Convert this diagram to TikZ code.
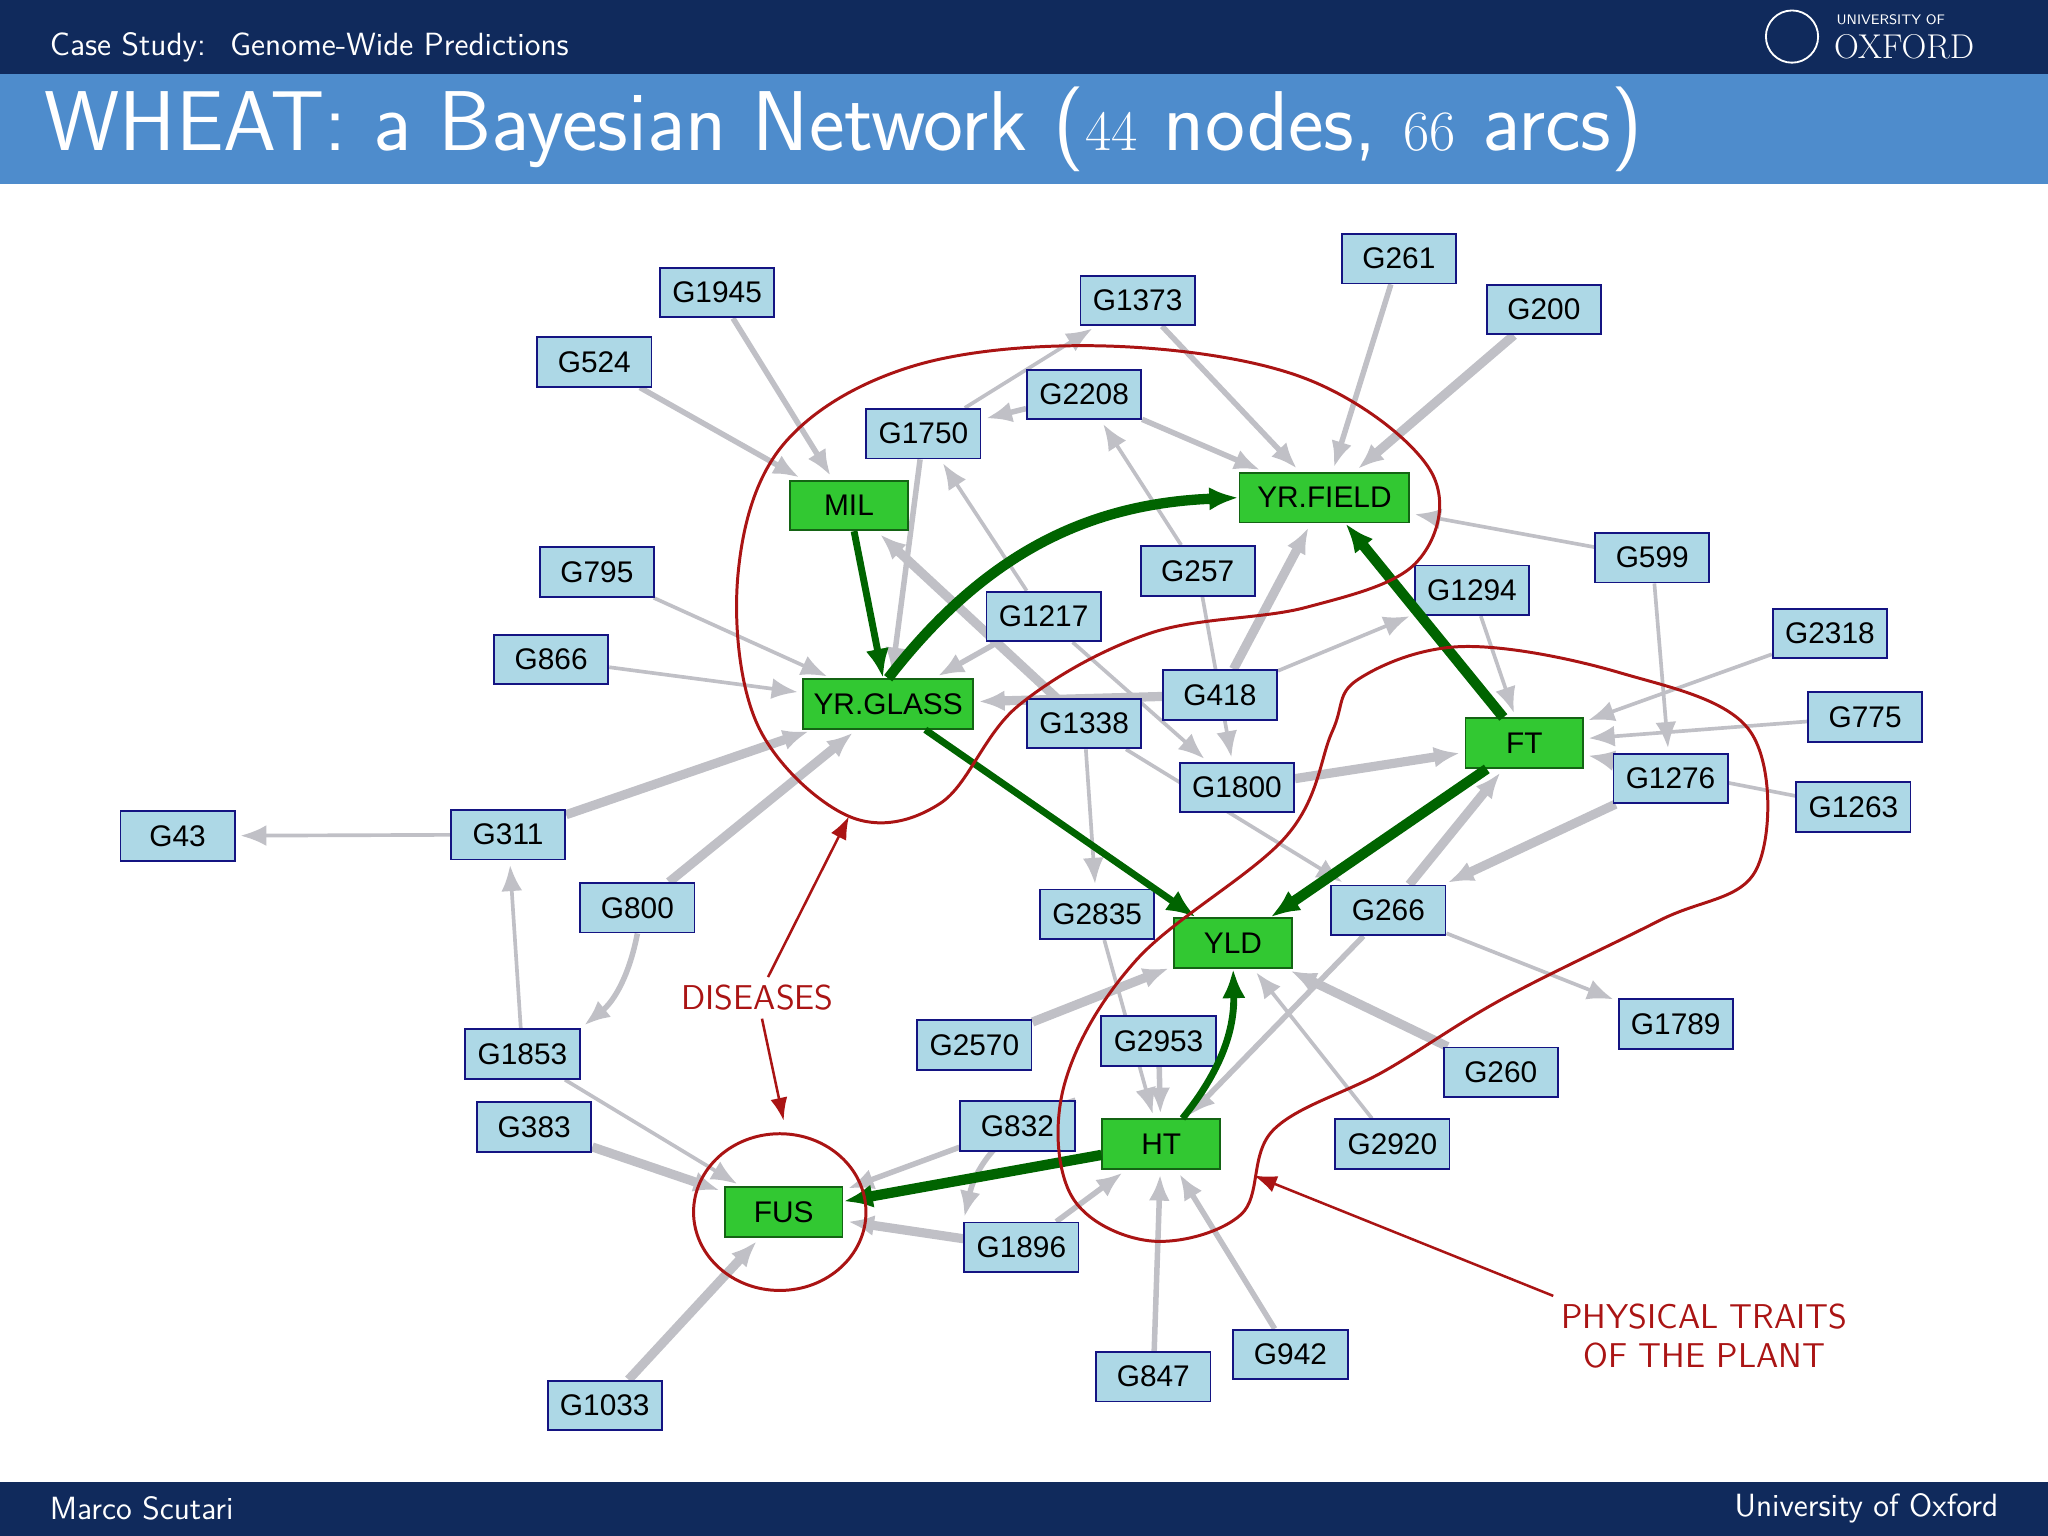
\documentclass[tikz,border=0pt]{standalone}
\usepackage{fontspec}
\newfontfamily\nodefont{Liberation Sans}
\usetikzlibrary{arrows.meta, positioning, shapes.geometric, calc, backgrounds}
\definecolor{navy}{RGB}{16,42,92}
\definecolor{titleblue}{RGB}{78,140,204}
\definecolor{gfill}{RGB}{173,216,230}
\definecolor{gdraw}{RGB}{20,20,130}
\definecolor{tfill}{RGB}{50,200,50}
\definecolor{tdraw}{RGB}{20,100,20}
\definecolor{arcgray}{RGB}{192,192,198}
\definecolor{arcgreen}{RGB}{0,100,0}
\definecolor{oxred}{RGB}{170,20,20}

\begin{document}
\begin{tikzpicture}[
    x=0.02cm, y=-0.02cm,
    gene/.style={rectangle, draw=gdraw, fill=gfill, thick, minimum width=1.75cm, minimum height=0.76cm, font=\nodefont\fontsize{13}{13}\selectfont},
    trait/.style={rectangle, draw=tdraw, fill=tfill, thick, minimum height=0.76cm, font=\nodefont\fontsize{13}{13}\selectfont},
    arc/.style={-{Latex[length=4mm,width=3.2mm]}, arcgray, line width=#1, shorten >=2pt},
    arc/.default=1.6pt,
    garc/.style={-{Latex[length=4.5mm,width=3.6mm]}, arcgreen, line width=#1},
    garc/.default=3pt,
    label/.style={oxred, font=\sffamily\fontsize{15}{17}\selectfont, align=center},
    contour/.style={oxred, line width=1.3pt},
]
\useasboundingbox (0,0) rectangle (1568,1176);

% slide frame
\fill[navy] (0,0) rectangle (1568,57);
\fill[titleblue] (0,57) rectangle (1568,141);
\fill[navy] (0,1135) rectangle (1568,1176);
\node[anchor=west, white, font=\sffamily\fontsize{14}{14}\selectfont] (sect) at (32,36) {Case Study: \ Genome-Wide Predictions};
\node[anchor=west, white, font=\sffamily\fontsize{37}{37}\selectfont] (title) at (28,99) {WHEAT: a Bayesian Network ($44$ nodes, $66$ arcs)};
\node[anchor=west, white, font=\sffamily\fontsize{14}{14}\selectfont] (author) at (32,1155) {Marco Scutari};
\node[anchor=east, white, font=\sffamily\fontsize{14}{14}\selectfont] (inst) at (1536,1155) {University of Oxford};
\node[circle, draw=white, fill=navy, thick, minimum size=0.8cm] (crest) at (1372,28) {};
\node[anchor=west, white, font=\sffamily\fontsize{6}{6}\selectfont] (uni) at (1400,15) {UNIVERSITY OF};
\node[anchor=west, white, font=\rmfamily\fontsize{15}{15}\selectfont] (oxf) at (1398,36) {OXFORD};

% trait nodes
\node[trait, minimum width=1.8cm] (MIL) at (650,387) {MIL};
\node[trait, minimum width=2.6cm] (YRF) at (1014,381) {YR.FIELD};
\node[trait, minimum width=2.6cm] (YRG) at (680,539) {YR.GLASS};
\node[trait, minimum width=1.8cm] (FT) at (1167,569) {FT};
\node[trait, minimum width=1.8cm] (YLD) at (944,722) {YLD};
\node[trait, minimum width=1.8cm] (HT) at (889,876) {HT};
\node[trait, minimum width=1.8cm] (FUS) at (600,928) {FUS};

% gene nodes
\foreach \n/\x/\y in {G1945/549/224, G524/455/277, G1373/871/230, G261/1071/198, G200/1182/237,
    G2208/830/302, G1750/707/332, G795/457/438, G257/917/437, G599/1265/427, G1217/799/472,
    G1294/1127/452, G866/422/505, G418/934/532, G1338/830/554, G2318/1401/485, G775/1428/549,
    G1276/1279/596, G1263/1419/618, G1800/947/603, G43/136/640, G311/389/639, G800/488/695,
    G2835/840/700, G266/1063/697, G1789/1283/784, G2570/746/800, G2953/887/797, G260/1149/821,
    G1853/400/807, G383/409/863, G832/779/862, G2920/1066/876, G1896/782/955, G847/883/1054,
    G942/988/1037, G1033/463/1076}
    \node[gene] (\n) at (\x,\y) {\n};

\begin{scope}[on background layer]
% gray arcs
\foreach \a/\b in {G1750/G1373, G599/YRF, G599/G1276, G795/YRG, G866/YRG, G1217/G1750,
    G418/G1294, G1294/FT, G2318/FT, G775/FT, G1263/FT, G257/G2208, G311/G43, G1853/G311,
    G1338/G2835, G1338/G266, G2920/YLD, G266/G1789, G1217/G1800, G1853/FUS, G2835/HT, G257/G1800}
    \draw[arc] (\a) -- (\b);
\foreach \a/\b in {G1945/MIL, G524/MIL, G1373/YRF, G261/YRF, G2208/YRF, G2208/G1750,
    G1750/YRG, G1217/YRG, G2953/HT, G847/HT, G942/HT, G832/FUS, G1896/HT, G266/HT}
    \draw[arc=2.4pt] (\a) -- (\b);
\foreach \a/\b in {G200/YRF, G418/YRF, G1338/MIL, G418/YRG, G311/YRG, G800/YRG, G1276/G266,
    G266/FT, G1800/FT, G260/YLD, G2570/YLD, G383/FUS, G1033/FUS, G1896/FUS}
    \draw[arc=4pt] (\a) -- (\b);
\draw[arc=2.4pt] (G800.south) to[bend left=20] (G1853.north east);
\draw[arc=2.4pt] (G832.north east) to[bend right=30] (G1896.north west);
\end{scope}

% green arcs
\draw[garc] (MIL) -- (YRG);
\draw[garc=4.5pt] (YRG.north) to[bend left=25] (YRF.west);
\draw[garc] (YRG) -- (YLD);
\draw[garc=4.5pt] (FT) -- (YRF);
\draw[garc=4.5pt] (FT) -- (YLD);
\draw[garc=4.5pt] (HT) -- (FUS);
\draw[garc] (HT) to[bend right=20] (YLD);

% contours
\draw[contour] plot[smooth cycle, tension=0.6] coordinates {(600,340) (700,280) (850,265)
    (1000,290) (1095,360) (1085,430) (1000,465) (880,485) (780,540) (720,615) (650,625)
    (580,555) (565,440)};
\draw[contour] plot[smooth cycle, tension=0.6] coordinates {(1040,520) (1120,495)
    (1240,515) (1340,560) (1345,665) (1270,705) (1150,765) (1060,820) (975,865) (950,930)
    (880,950) (820,915) (815,830) (870,735) (985,640) (1020,560)};
\draw[contour] (597,928) ellipse (66 and 60);

% labels
\node[label] (dis) at (580,764) {DISEASES};
\node[label] (phys) at (1305,1023) {PHYSICAL TRAITS\\OF THE PLANT};
\coordinate (disup) at (650,625);
\coordinate (disdn) at (600,858);
\coordinate (physend) at (960,900);
\draw[-{Latex[length=3.5mm]}, oxred, line width=1.1pt] (dis) -- (disup);
\draw[-{Latex[length=3.5mm]}, oxred, line width=1.1pt] (dis) -- (disdn);
\draw[-{Latex[length=3.5mm]}, oxred, line width=1.1pt] (phys.north west) -- (physend);

\end{tikzpicture}
\end{document}
